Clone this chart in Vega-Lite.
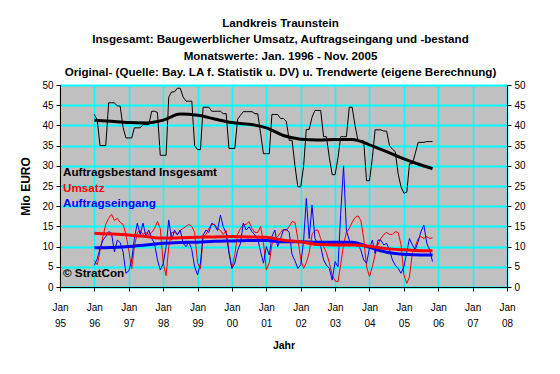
{
  "$schema": "https://vega.github.io/schema/vega-lite/v6.json",
  "width": 447,
  "height": 202,
  "autosize": {"type": "none"},
  "padding": {"left": 60, "top": 85, "right": 53, "bottom": 87},
  "background": "white",
  "title": {
    "text": ["Landkreis Traunstein", "Insgesamt: Baugewerblicher Umsatz, Auftragseingang und -bestand", "Monatswerte: Jan. 1996 - Nov. 2005", "Original- (Quelle: Bay. LA f. Statistik u. DV) u. Trendwerte (eigene Berechnung)"],
    "fontSize": 11.6,
    "fontWeight": "bold",
    "font": "Liberation Sans",
    "lineHeight": 16.5,
    "anchor": "middle",
    "frame": "group",
    "offset": 1,
    "dx": -3,
    "color": "black"
  },
  "config": {
    "view": {"fill": "#C0C0C0", "stroke": "#808080", "strokeWidth": 1},
    "font": "Liberation Sans",
    "axis": {"labelFont": "Liberation Sans", "titleFont": "Liberation Sans", "labelColor": "black", "titleColor": "black", "domainColor": "black", "tickColor": "black"}
  },
  "datasets": {
    "m": [
      {"d": "1996-01-01", "b": 42.7, "u": 6.5, "e": 5.4},
      {"d": "1996-02-01", "b": 41.3, "u": 5.5, "e": 7},
      {"d": "1996-03-01", "b": 35, "u": 9, "e": 9.5},
      {"d": "1996-04-01", "b": 35, "u": 12.5, "e": 11.6},
      {"d": "1996-05-01", "b": 35, "u": 15.5, "e": 12.5},
      {"d": "1996-06-01", "b": 45.6, "u": 17, "e": 13.7},
      {"d": "1996-07-01", "b": 45.6, "u": 18, "e": 13.3},
      {"d": "1996-08-01", "b": 45.6, "u": 16.5, "e": 8.7},
      {"d": "1996-09-01", "b": 44.8, "u": 17, "e": 11.6},
      {"d": "1996-10-01", "b": 44.8, "u": 16, "e": 11},
      {"d": "1996-11-01", "b": 39.5, "u": 15.5, "e": 8.7},
      {"d": "1996-12-01", "b": 36.9, "u": 13, "e": 3.4},
      {"d": "1997-01-01", "b": 36.9, "u": 9, "e": 4},
      {"d": "1997-02-01", "b": 36.9, "u": 4.5, "e": 6.7},
      {"d": "1997-03-01", "b": 39.4, "u": 10, "e": 12},
      {"d": "1997-04-01", "b": 39.4, "u": 13.5, "e": 15.8},
      {"d": "1997-05-01", "b": 39.4, "u": 14, "e": 13},
      {"d": "1997-06-01", "b": 40.2, "u": 13, "e": 15.8},
      {"d": "1997-07-01", "b": 40.2, "u": 13.5, "e": 12.5},
      {"d": "1997-08-01", "b": 40.2, "u": 13, "e": 14.1},
      {"d": "1997-09-01", "b": 43.5, "u": 13.5, "e": 12},
      {"d": "1997-10-01", "b": 43.5, "u": 14.5, "e": 10.8},
      {"d": "1997-11-01", "b": 43.2, "u": 16.2, "e": 6.7},
      {"d": "1997-12-01", "b": 32.6, "u": 14.5, "e": 4.2},
      {"d": "1998-01-01", "b": 32.6, "u": 6, "e": 5.8},
      {"d": "1998-02-01", "b": 32.6, "u": 2.8, "e": 10},
      {"d": "1998-03-01", "b": 47, "u": 10, "e": 16.6},
      {"d": "1998-04-01", "b": 48.3, "u": 13.5, "e": 11.6},
      {"d": "1998-05-01", "b": 48.3, "u": 13.5, "e": 14.1},
      {"d": "1998-06-01", "b": 49.2, "u": 13, "e": 12.9},
      {"d": "1998-07-01", "b": 49.2, "u": 14, "e": 14.1},
      {"d": "1998-08-01", "b": 47, "u": 14.5, "e": 10.8},
      {"d": "1998-09-01", "b": 46, "u": 15, "e": 10},
      {"d": "1998-10-01", "b": 46, "u": 15.5, "e": 11.2},
      {"d": "1998-11-01", "b": 46, "u": 15, "e": 9.2},
      {"d": "1998-12-01", "b": 35, "u": 13.5, "e": 5},
      {"d": "1999-01-01", "b": 34, "u": 6, "e": 3},
      {"d": "1999-02-01", "b": 34, "u": 4.5, "e": 5.9},
      {"d": "1999-03-01", "b": 44.5, "u": 12.5, "e": 12.9},
      {"d": "1999-04-01", "b": 44.5, "u": 13, "e": 14.1},
      {"d": "1999-05-01", "b": 44.5, "u": 14.5, "e": 13.5},
      {"d": "1999-06-01", "b": 43.5, "u": 15.5, "e": 15.8},
      {"d": "1999-07-01", "b": 43.5, "u": 15.5, "e": 15.3},
      {"d": "1999-08-01", "b": 43.5, "u": 14.5, "e": 14},
      {"d": "1999-09-01", "b": 43.5, "u": 14, "e": 17.8},
      {"d": "1999-10-01", "b": 42.9, "u": 13, "e": 14.9},
      {"d": "1999-11-01", "b": 42.9, "u": 14, "e": 13.3},
      {"d": "1999-12-01", "b": 34.3, "u": 9, "e": 8.3},
      {"d": "2000-01-01", "b": 34.3, "u": 4.6, "e": 4.6},
      {"d": "2000-02-01", "b": 34.3, "u": 8, "e": 5.9},
      {"d": "2000-03-01", "b": 41.5, "u": 13, "e": 9},
      {"d": "2000-04-01", "b": 42.5, "u": 14.5, "e": 10.8},
      {"d": "2000-05-01", "b": 43.4, "u": 15.5, "e": 15.8},
      {"d": "2000-06-01", "b": 43.4, "u": 15.5, "e": 14.1},
      {"d": "2000-07-01", "b": 43.4, "u": 16.2, "e": 14.9},
      {"d": "2000-08-01", "b": 43.4, "u": 14.5, "e": 13.7},
      {"d": "2000-09-01", "b": 42.9, "u": 13.5, "e": 12.9},
      {"d": "2000-10-01", "b": 42.9, "u": 13.5, "e": 12},
      {"d": "2000-11-01", "b": 38, "u": 15, "e": 8.7},
      {"d": "2000-12-01", "b": 33, "u": 11, "e": 5.9},
      {"d": "2001-01-01", "b": 33, "u": 4.2, "e": 10},
      {"d": "2001-02-01", "b": 33, "u": 6, "e": 7.9},
      {"d": "2001-03-01", "b": 42.7, "u": 10.5, "e": 12.5},
      {"d": "2001-04-01", "b": 42.7, "u": 12, "e": 14.1},
      {"d": "2001-05-01", "b": 42.7, "u": 12.5, "e": 10},
      {"d": "2001-06-01", "b": 41.7, "u": 13.5, "e": 12},
      {"d": "2001-07-01", "b": 41.7, "u": 14.3, "e": 14.1},
      {"d": "2001-08-01", "b": 41, "u": 14, "e": 14.3},
      {"d": "2001-09-01", "b": 36.3, "u": 15, "e": 13.5},
      {"d": "2001-10-01", "b": 36.3, "u": 16.2, "e": 8},
      {"d": "2001-11-01", "b": 30, "u": 16, "e": 6.5},
      {"d": "2001-12-01", "b": 24.8, "u": 12, "e": 4.6},
      {"d": "2002-01-01", "b": 24.8, "u": 6.8, "e": 5.5},
      {"d": "2002-02-01", "b": 30, "u": 4.6, "e": 11.6},
      {"d": "2002-03-01", "b": 39, "u": 6, "e": 21.9},
      {"d": "2002-04-01", "b": 39, "u": 8.5, "e": 12},
      {"d": "2002-05-01", "b": 42, "u": 13, "e": 20.3},
      {"d": "2002-06-01", "b": 43.7, "u": 14, "e": 12},
      {"d": "2002-07-01", "b": 43.7, "u": 14.1, "e": 10.8},
      {"d": "2002-08-01", "b": 43.7, "u": 12, "e": 10},
      {"d": "2002-09-01", "b": 37.2, "u": 10, "e": 6.7},
      {"d": "2002-10-01", "b": 37.2, "u": 8.5, "e": 5.4},
      {"d": "2002-11-01", "b": 32, "u": 6, "e": 4.6},
      {"d": "2002-12-01", "b": 27.8, "u": 3, "e": 1.7},
      {"d": "2003-01-01", "b": 27.8, "u": 1.5, "e": 6.3},
      {"d": "2003-02-01", "b": 32, "u": 1.3, "e": 5},
      {"d": "2003-03-01", "b": 37.2, "u": 5.5, "e": 18},
      {"d": "2003-04-01", "b": 37.2, "u": 10.5, "e": 30},
      {"d": "2003-05-01", "b": 37.2, "u": 13.5, "e": 14},
      {"d": "2003-06-01", "b": 44.5, "u": 14.5, "e": 11.6},
      {"d": "2003-07-01", "b": 44.5, "u": 16, "e": 10.8},
      {"d": "2003-08-01", "b": 40, "u": 17.2, "e": 10.8},
      {"d": "2003-09-01", "b": 36.2, "u": 17.6, "e": 10.4},
      {"d": "2003-10-01", "b": 36.2, "u": 16.5, "e": 9.2},
      {"d": "2003-11-01", "b": 36.2, "u": 12, "e": 6.7},
      {"d": "2003-12-01", "b": 26.3, "u": 5, "e": 5.9},
      {"d": "2004-01-01", "b": 26.3, "u": 2.6, "e": 9.6},
      {"d": "2004-02-01", "b": 32, "u": 5, "e": 11.6},
      {"d": "2004-03-01", "b": 38.9, "u": 8, "e": 8.3},
      {"d": "2004-04-01", "b": 38.9, "u": 10.5, "e": 11.6},
      {"d": "2004-05-01", "b": 38.9, "u": 12, "e": 11.6},
      {"d": "2004-06-01", "b": 38.6, "u": 13, "e": 10.4},
      {"d": "2004-07-01", "b": 38.6, "u": 13.5, "e": 10.8},
      {"d": "2004-08-01", "b": 35, "u": 13, "e": 9.2},
      {"d": "2004-09-01", "b": 34.1, "u": 13, "e": 6.7},
      {"d": "2004-10-01", "b": 33.5, "u": 13.7, "e": 5.4},
      {"d": "2004-11-01", "b": 28, "u": 13.5, "e": 4.6},
      {"d": "2004-12-01", "b": 24.8, "u": 10.5, "e": 3.4},
      {"d": "2005-01-01", "b": 23.2, "u": 3, "e": 5},
      {"d": "2005-02-01", "b": 23.5, "u": 0.9, "e": 8.7},
      {"d": "2005-03-01", "b": 30.5, "u": 2.5, "e": 12},
      {"d": "2005-04-01", "b": 30.5, "u": 8.5, "e": 10.4},
      {"d": "2005-05-01", "b": 33, "u": 10, "e": 9.2},
      {"d": "2005-06-01", "b": 35.8, "u": 12, "e": 11.2},
      {"d": "2005-07-01", "b": 35.8, "u": 12.5, "e": 13.7},
      {"d": "2005-08-01", "b": 35.8, "u": 12, "e": 15.3},
      {"d": "2005-09-01", "b": 36, "u": 12.5, "e": 10.8},
      {"d": "2005-10-01", "b": 36, "u": 12, "e": 9.2},
      {"d": "2005-11-01", "b": 36, "u": 12.2, "e": 6.3}
    ],
    "t": [
      {"d": "1996-01-01", "bt": 41.3, "ut": 13.3, "et": 9.7},
      {"d": "1996-07-01", "bt": 41.0, "ut": 13.1, "et": 9.8},
      {"d": "1997-01-01", "bt": 40.7, "ut": 12.9, "et": 10.0},
      {"d": "1997-07-01", "bt": 40.6, "ut": 12.5, "et": 10.4},
      {"d": "1998-01-01", "bt": 41.3, "ut": 12.1, "et": 10.8},
      {"d": "1998-07-01", "bt": 42.8, "ut": 12.2, "et": 11.0},
      {"d": "1999-01-01", "bt": 42.5, "ut": 12.3, "et": 11.1},
      {"d": "1999-07-01", "bt": 41.6, "ut": 12.4, "et": 11.3},
      {"d": "2000-01-01", "bt": 40.7, "ut": 12.5, "et": 11.4},
      {"d": "2000-07-01", "bt": 40.3, "ut": 12.4, "et": 11.5},
      {"d": "2001-01-01", "bt": 39.4, "ut": 12.3, "et": 11.5},
      {"d": "2001-07-01", "bt": 37.5, "ut": 11.6, "et": 11.2},
      {"d": "2002-01-01", "bt": 36.6, "ut": 11.2, "et": 11.2},
      {"d": "2002-07-01", "bt": 36.4, "ut": 10.5, "et": 11.1},
      {"d": "2003-01-01", "bt": 36.5, "ut": 10.4, "et": 11.1},
      {"d": "2003-07-01", "bt": 36.5, "ut": 10.4, "et": 11.1},
      {"d": "2004-01-01", "bt": 35.2, "ut": 10.1, "et": 9.8},
      {"d": "2004-07-01", "bt": 33.5, "ut": 9.5, "et": 8.6},
      {"d": "2005-01-01", "bt": 31.7, "ut": 9.2, "et": 8.1},
      {"d": "2005-07-01", "bt": 30.2, "ut": 9.0, "et": 7.9},
      {"d": "2005-11-01", "bt": 29.3, "ut": 9.0, "et": 7.9}
    ],
    "lab": [
      {"label": "Auftragsbestand Insgesamt", "series": "b"},
      {"label": "Umsatz", "series": "u"},
      {"label": "Auftragseingang", "series": "e"},
      {"label": "© StratCon", "series": "c"}
    ]
  },
  "resolve": {"scale": {"y": "shared"}, "axis": {"y": "independent"}},
  "layer": [
    {
      "data": {"name": "m"},
      "mark": {"type": "line", "color": "black", "strokeWidth": 1},
      "encoding": {
        "x": {
          "field": "d",
          "type": "temporal",
          "scale": {"type": "utc", "domain": [{"year": 1995, "month": 1, "date": 1, "utc": true}, {"year": 2008, "month": 1, "date": 1, "utc": true}]},
          "axis": {
            "title": "Jahr",
            "tickCount": {"interval": "year", "step": 1},
            "labelExpr": "['Jan', utcFormat(datum.value, '%y')]",
            "grid": true,
            "gridColor": "#00FFFF",
            "gridWidth": 1.5,
            "labelFlush": false,
            "labelOverlap": false,
            "labelBound": false,
            "tickSize": 4,
            "labelPadding": 11,
            "labelFontSize": 10,
            "labelLineHeight": 16,
            "titleFontSize": 10.5,
            "titleFontWeight": "bold",
            "titlePadding": 12
          }
        },
        "y": {
          "field": "b", "type": "quantitative",
          "scale": {"domain": [0, 50], "nice": false},
          "axis": {"orient": "left", "title": "Mio EURO", "values": [0, 5, 10, 15, 20, 25, 30, 35, 40, 45, 50], "grid": true, "gridColor": "#00FFFF", "gridWidth": 2, "tickSize": 4, "labelPadding": 3, "labelFontSize": 10, "titleFontSize": 12, "titleFontWeight": "bold", "titlePadding": 9}
        }
      }
    },
    {
      "data": {"name": "m"},
      "mark": {"type": "line", "color": "#FF0000", "strokeWidth": 1},
      "encoding": {
        "x": {"field": "d", "type": "temporal"},
        "y": {
          "field": "u", "type": "quantitative",
          "scale": {"domain": [0, 50], "nice": false},
          "axis": {"orient": "right", "title": null, "values": [0, 5, 10, 15, 20, 25, 30, 35, 40, 45, 50], "grid": false, "tickSize": 4, "labelPadding": 3, "labelFontSize": 10}
        }
      }
    },
    {
      "data": {"name": "m"},
      "mark": {"type": "line", "color": "#0000FF", "strokeWidth": 1},
      "encoding": {"x": {"field": "d", "type": "temporal"}, "y": {"field": "e", "type": "quantitative", "axis": null}}
    },
    {
      "data": {"name": "t"},
      "mark": {"type": "line", "color": "black", "strokeWidth": 3, "interpolate": "monotone"},
      "encoding": {"x": {"field": "d", "type": "temporal"}, "y": {"field": "bt", "type": "quantitative", "axis": null}}
    },
    {
      "data": {"name": "t"},
      "mark": {"type": "line", "color": "#0000FF", "strokeWidth": 3, "interpolate": "monotone"},
      "encoding": {"x": {"field": "d", "type": "temporal"}, "y": {"field": "et", "type": "quantitative", "axis": null}}
    },
    {
      "data": {"name": "t"},
      "mark": {"type": "line", "color": "#FF0000", "strokeWidth": 3, "interpolate": "monotone"},
      "encoding": {"x": {"field": "d", "type": "temporal"}, "y": {"field": "ut", "type": "quantitative", "axis": null}}
    },
    {
      "data": {"name": "lab"},
      "transform": [{"filter": "datum.series == 'b'"}],
      "mark": {"type": "text", "color": "black", "fontWeight": "bold", "fontSize": 11.7, "font": "Liberation Sans", "align": "left", "baseline": "middle", "dx": 3},
      "encoding": {"text": {"field": "label"}, "x": {"datum": {"year": 1995, "month": 1, "date": 1, "utc": true}, "type": "temporal"}, "y": {"datum": 28.5, "type": "quantitative", "axis": null}}
    },
    {
      "data": {"name": "lab"},
      "transform": [{"filter": "datum.series == 'u'"}],
      "mark": {"type": "text", "color": "#FF0000", "fontWeight": "bold", "fontSize": 11.7, "font": "Liberation Sans", "align": "left", "baseline": "middle", "dx": 3},
      "encoding": {"text": {"field": "label"}, "x": {"datum": {"year": 1995, "month": 1, "date": 1, "utc": true}, "type": "temporal"}, "y": {"datum": 24.6, "type": "quantitative", "axis": null}}
    },
    {
      "data": {"name": "lab"},
      "transform": [{"filter": "datum.series == 'e'"}],
      "mark": {"type": "text", "color": "#0000FF", "fontWeight": "bold", "fontSize": 11.7, "font": "Liberation Sans", "align": "left", "baseline": "middle", "dx": 3},
      "encoding": {"text": {"field": "label"}, "x": {"datum": {"year": 1995, "month": 1, "date": 1, "utc": true}, "type": "temporal"}, "y": {"datum": 20.8, "type": "quantitative", "axis": null}}
    },
    {
      "data": {"name": "lab"},
      "transform": [{"filter": "datum.series == 'c'"}],
      "mark": {"type": "text", "color": "black", "fontWeight": "bold", "fontSize": 11.7, "font": "Liberation Sans", "align": "left", "baseline": "middle", "dx": 3},
      "encoding": {"text": {"field": "label"}, "x": {"datum": {"year": 1995, "month": 1, "date": 1, "utc": true}, "type": "temporal"}, "y": {"datum": 3.5, "type": "quantitative", "axis": null}}
    }
  ]
}
